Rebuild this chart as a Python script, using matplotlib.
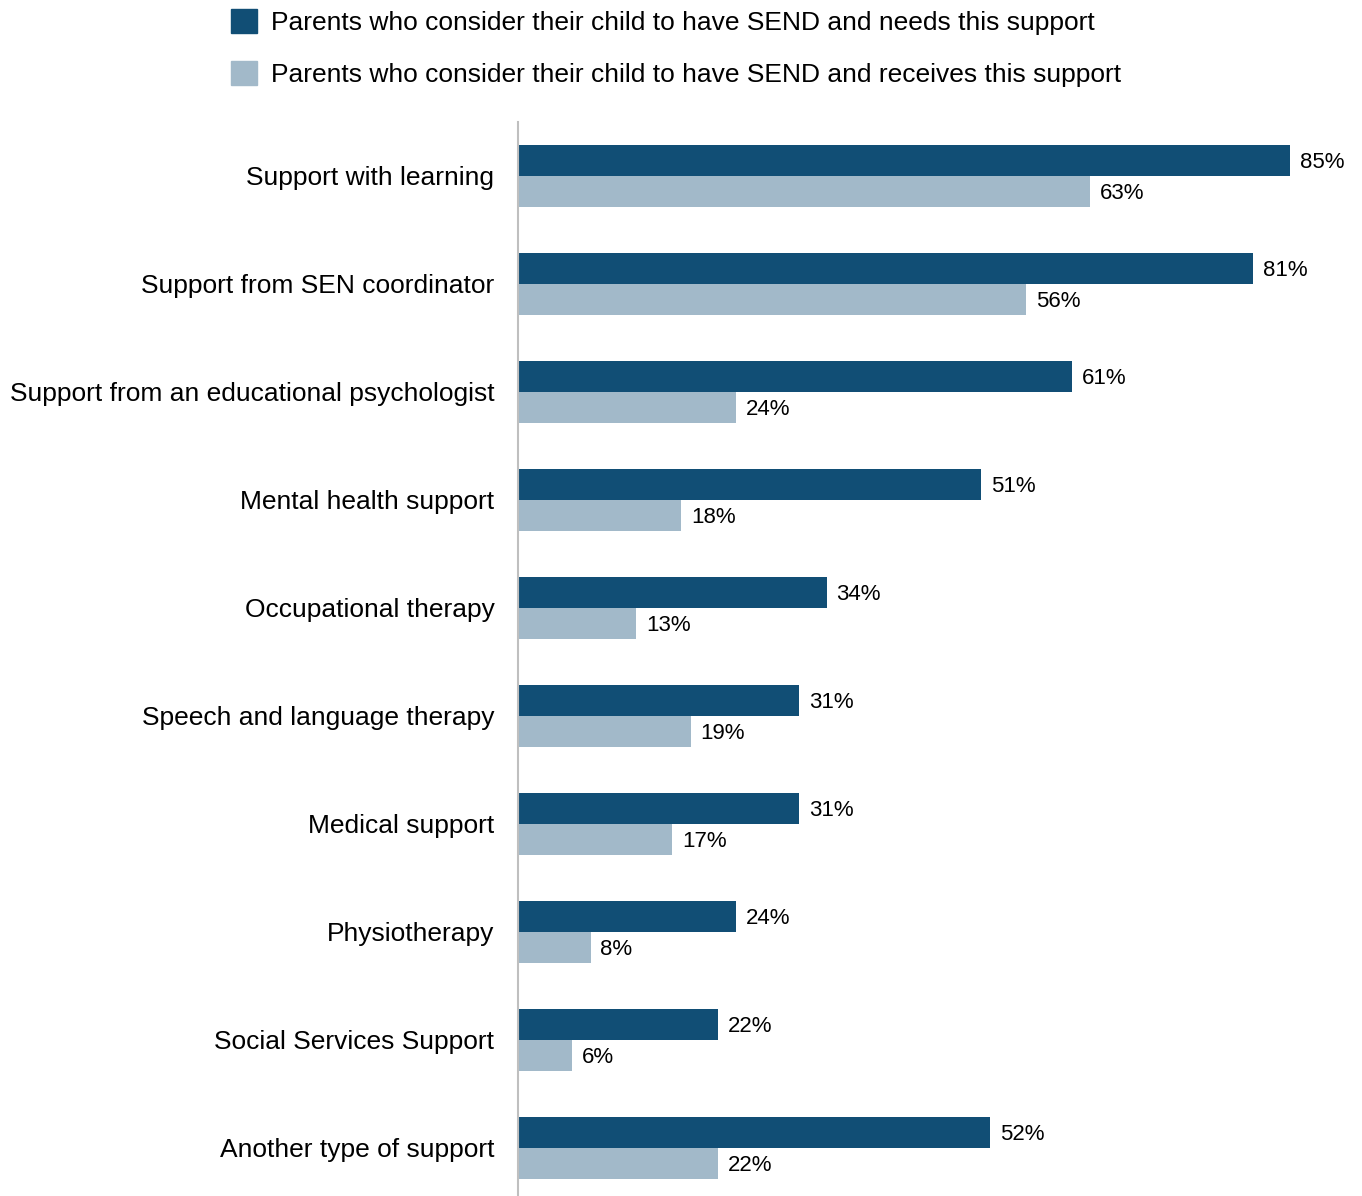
import matplotlib
matplotlib.use("Agg")
import matplotlib.pyplot as plt
from matplotlib.patches import Patch
import numpy as np

plt.rcParams['font.family'] = ['Liberation Sans', 'DejaVu Sans']

categories = [
    "Support with learning",
    "Support from SEN coordinator",
    "Support from an educational psychologist",
    "Mental health support",
    "Occupational therapy",
    "Speech and language therapy",
    "Medical support",
    "Physiotherapy",
    "Social Services Support",
    "Another type of support",
]
needs = [85, 81, 61, 51, 34, 31, 31, 24, 22, 52]
receives = [63, 56, 24, 18, 13, 19, 17, 8, 6, 22]
series_labels = [
    "Parents who consider their child to have SEND and needs this support",
    "Parents who consider their child to have SEND and receives this support",
]

dark = "#114E75"
light = "#A2B9C9"

W, H = 1362, 1196
fig = plt.figure(figsize=(W / 100, H / 100), dpi=100)
ax = fig.add_axes([518 / W, (H - 1202) / H, (W - 518) / W, 1080 / H])

y = np.arange(len(categories))
bh = 0.287
ax.barh(y - bh / 2, needs, height=bh, color=dark, label=series_labels[0])
ax.barh(y + bh / 2, receives, height=bh, color=light, label=series_labels[1])

ax.set_xlim(0, (W - 518) / 9.08)
ax.set_ylim(len(categories) - 0.5, -0.5)

for yi, v in zip(y, needs):
    ax.annotate(f"{v}%", (v, yi - bh / 2), xytext=(7, -1.5), textcoords="offset points",
                va="center", ha="left", fontsize=16, color="#000000")
for yi, v in zip(y, receives):
    ax.annotate(f"{v}%", (v, yi + bh / 2), xytext=(7, -1.5), textcoords="offset points",
                va="center", ha="left", fontsize=16, color="#000000")

ax.set_yticks(y)
ax.set_yticklabels(categories, fontsize=19)
ax.tick_params(axis="y", length=0, pad=17)
ax.set_xticks([])
for s in ["top", "right", "bottom"]:
    ax.spines[s].set_visible(False)
ax.spines["left"].set_color("#BFBFBF")
ax.spines["left"].set_linewidth(1.5)

handles = [Patch(color=dark), Patch(color=light)]
fig.legend(handles, series_labels, loc="upper left",
           bbox_to_anchor=(231 / W, 1 - 9 / H), frameon=False, fontsize=19,
           handlelength=1.0, handleheight=1.0, handletextpad=0.53,
           labelspacing=1.0, borderaxespad=0, borderpad=0)

fig.savefig("out.png", dpi=100)
